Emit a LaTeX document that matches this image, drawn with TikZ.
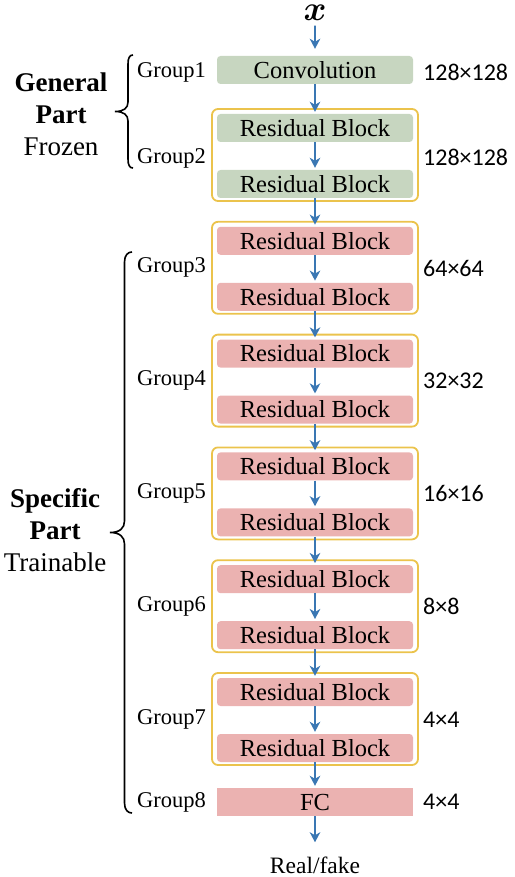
\documentclass[tikz,border=0pt]{standalone}
\usepackage{fontspec}
\setmainfont{Liberation Serif}
\newfontfamily\calib{Carlito}
\usepackage{amsmath}
\usetikzlibrary{arrows.meta}
\definecolor{boxgreen}{HTML}{C7D6C0}
\definecolor{boxpink}{HTML}{EBB2B1}
\definecolor{frameyellow}{HTML}{EBC34C}
\definecolor{arrowblue}{HTML}{3A77B3}
\begin{document}
\begin{tikzpicture}[x=1pt,y=-1pt,
  blk/.style={minimum width=196pt, minimum height=28pt, inner sep=0pt, rounded corners=3.5pt, font=\fontsize{24.5}{28}\selectfont},
  gblk/.style={blk, fill=boxgreen},
  pblk/.style={blk, fill=boxpink},
  frm/.style={draw=frameyellow, line width=1.8pt, rounded corners=6pt, minimum width=206pt, minimum height=92pt, inner sep=0pt},
  grp/.style={anchor=west, inner sep=0pt, font=\fontsize{22.5}{26}\selectfont},
  sz/.style={anchor=west, inner sep=0pt, font=\calib\fontsize{24}{28}\selectfont},
  side/.style={align=center, inner sep=0pt, font=\fontsize{27}{32}\selectfont},
  flow/.style={-{Stealth[length=10pt,width=10.5pt,inset=3pt]}, draw=arrowblue, line width=1.8pt, shorten >=2pt},
  brc/.style={line width=1.6pt}]
\useasboundingbox (0,0) rectangle (514,877);

% input
\node[inner sep=0pt, font=\Huge, scale=1.4] (xin) at (315,12.5) {$\boldsymbol{x}$};

% group 1
\node[gblk] (conv) at (315,70) {Convolution};
\node[grp] (g1) at (137,72) {Group1};
\node[sz] (s1) at (423,72) {128×128};
\draw[flow, shorten <=5pt, shorten >=7pt] (xin) -- (conv);

% group 2
\node[frm] (f2) at (315,155) {};
\node[gblk] (a2) at (315,128) {Residual Block};
\node[gblk] (b2) at (315,184) {Residual Block};
\node[grp] (g2) at (137,158) {Group2};
\node[sz] (s2) at (423,157) {128×128};
\draw[flow] (conv) -- (a2);
\draw[flow] (a2) -- (b2);

% groups 3..7
\foreach \k/\s in {3/64,4/32,5/16,6/8,7/4}{
  \pgfmathsetmacro\T{108+112.8*(\k-2)}
  \pgfmathtruncatemacro\prev{\k-1}
  \node[frm] (f\k) at (315,\T+47) {};
  \node[pblk] (a\k) at (315,\T+20) {Residual Block};
  \node[pblk] (b\k) at (315,\T+76) {Residual Block};
  \node[grp] (g\k) at (137,\T+47) {Group\k};
  \node[sz] (s\k) at (423,\T+47.5) {\s×\s};
  \draw[flow] (b\prev) -- (a\k);
  \draw[flow] (a\k) -- (b\k);
}

% group 8
\node[pblk, rounded corners=0pt] (fc) at (315,802) {FC};
\node[grp] (g8) at (137,802) {Group8};
\node[sz] (s8) at (423,802) {4×4};
\draw[flow] (b7) -- (fc);

% output
\node[inner sep=0pt, anchor=base, font=\fontsize{23.5}{28}\selectfont] (out) at (315,873) {Real/fake};
\draw[flow, shorten >=14pt] (fc) -- (out);

% side labels
\node[side] (gen) at (61,114) {\textbf{General}\\\textbf{Part}\\Frozen};
\node[side] (spec) at (55,530) {\textbf{Specific}\\\textbf{Part}\\Trainable};

% braces
\draw[brc] (133,55) .. controls (129.5,55) and (128,58) .. (128,64) -- (128,102)
  .. controls (128,108) and (124,111.5) .. (115,111.5)
  .. controls (124,111.5) and (128,115) .. (128,121) -- (128,159)
  .. controls (128,165) and (129.5,168) .. (133,168);
\draw[brc] (132,252) .. controls (128,252) and (124.5,255) .. (124.5,262) -- (124.5,521)
  .. controls (124.5,528) and (120,532.5) .. (110,532.5)
  .. controls (120,532.5) and (124.5,537) .. (124.5,544) -- (124.5,803)
  .. controls (124.5,810) and (128,813) .. (132,813);
\end{tikzpicture}
\end{document}
